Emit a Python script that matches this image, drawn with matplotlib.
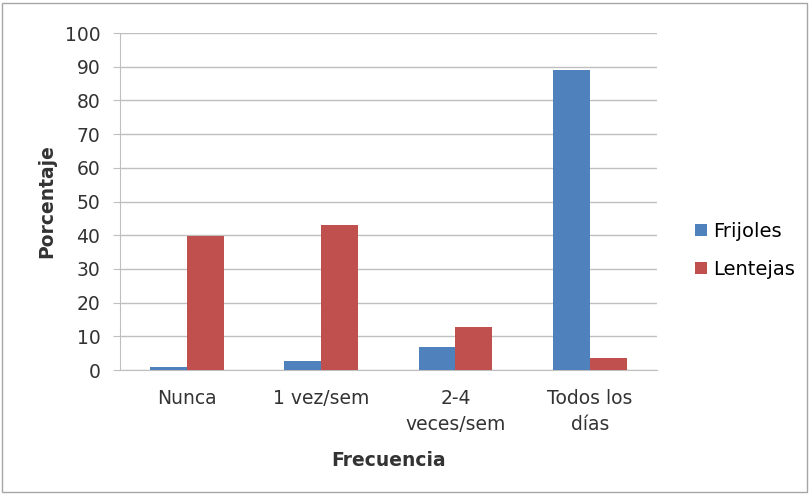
import numpy as np
import matplotlib.pyplot as plt
from matplotlib.patches import Rectangle

categorias = ['Nunca', '1 vez/sem', '2-4\nveces/sem', 'Todos los\ndías']
frijoles = [0.9, 2.7, 6.9, 89]
lentejas = [39.8, 43, 12.9, 3.6]

azul = '#4F81BD'
rojo = '#C0504D'
gris = '#BFBFBF'
texto = '#333333'

fig = plt.figure(figsize=(8.09, 4.94), dpi=100)
ax = fig.add_axes([0.148, 0.251, 0.664, 0.682])
fig.patches.append(Rectangle((0.003, 0.004), 0.994, 0.99, transform=fig.transFigure,
                             fill=False, edgecolor='#A6A6A6', linewidth=1))

x = np.arange(len(categorias))
w = 0.275
ax.bar(x - w/2, frijoles, w, color=azul, label='Frijoles', zorder=3)
ax.bar(x + w/2, lentejas, w, color=rojo, label='Lentejas', zorder=3)

ax.set_xlim(-0.5, 3.5)
ax.set_ylim(0, 100)
ax.set_yticks(range(0, 101, 10))
ax.yaxis.grid(True, color=gris, linewidth=1, zorder=0)
ax.set_xticks(x)
ax.set_xticklabels(categorias, fontsize=13.5, color=texto, linespacing=1.45)
ax.tick_params(axis='x', length=0, pad=14)
ax.tick_params(axis='y', length=5, color=gris, labelsize=13.5, labelcolor=texto, pad=9)
for s in ['top', 'right']:
    ax.spines[s].set_visible(False)
ax.spines['left'].set_color(gris)
ax.spines['bottom'].set_color(gris)

ax.set_xlabel('Frecuencia', fontsize=13.5, fontweight='bold', color=texto, labelpad=12)
ax.set_ylabel('Porcentaje', fontsize=13.5, fontweight='bold', color=texto, labelpad=6)

ax.legend(loc='center left', bbox_to_anchor=(1.039, 0.355), frameon=False, fontsize=14,
          handlelength=0.6, handleheight=0.6, handletextpad=0.3, labelspacing=0.95)

fig.savefig('out.png', dpi=100)
